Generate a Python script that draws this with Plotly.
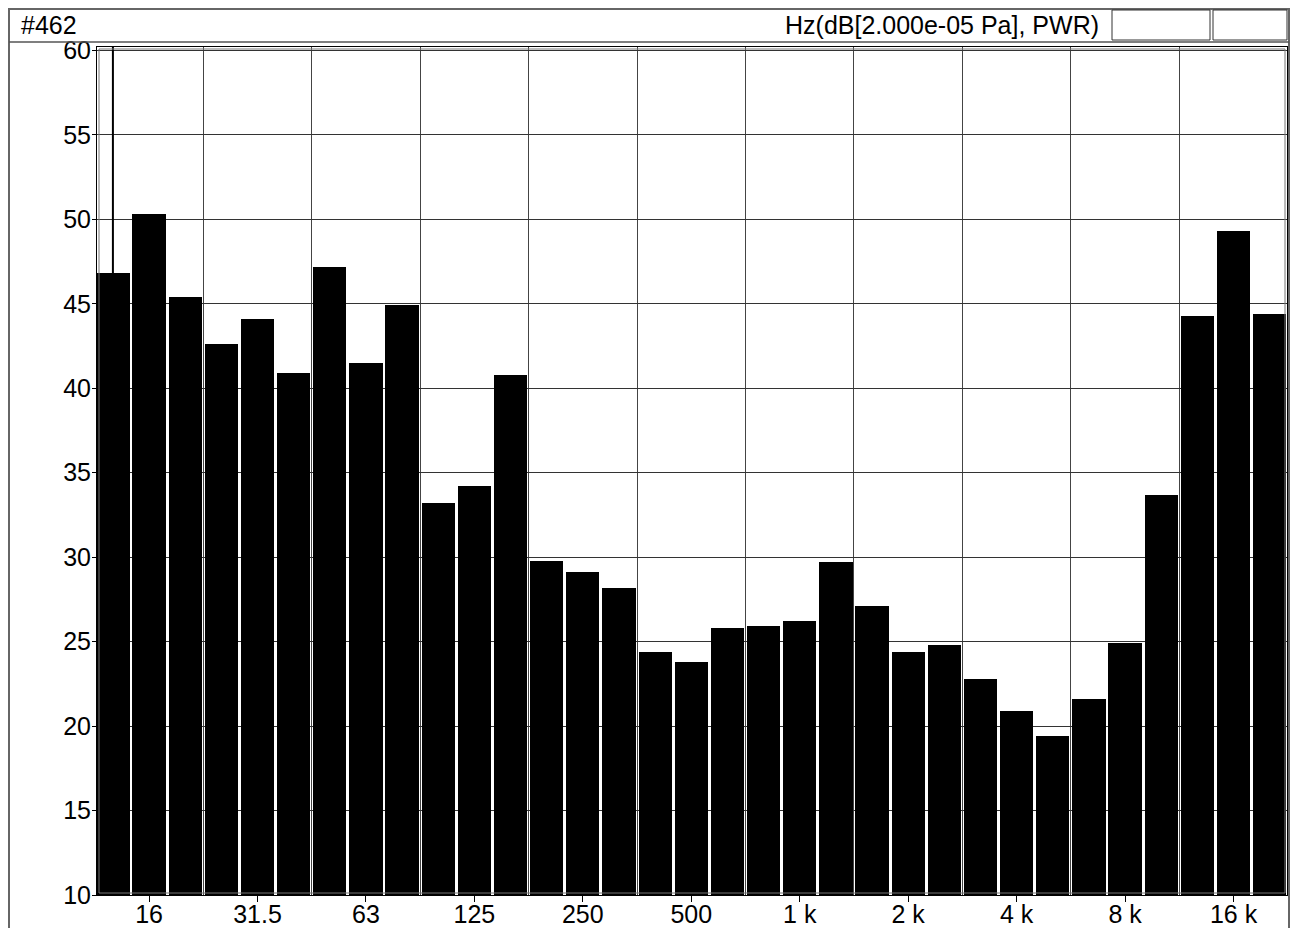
import plotly.graph_objects as go

# ---- data ----
bands = ["12.5", "16", "20", "25", "31.5", "40", "50", "63", "80", "100", "125", "160",
         "200", "250", "315", "400", "500", "630", "800", "1 k", "1.25 k", "1.6 k", "2 k",
         "2.5 k", "3.15 k", "4 k", "5 k", "6.3 k", "8 k", "10 k", "12.5 k", "16 k", "20 k"]
levels_db = [46.8, 50.3, 45.4, 42.6, 44.1, 40.9, 47.2, 41.5, 44.9, 33.2, 34.2, 40.8,
             29.8, 29.1, 28.2, 24.4, 23.8, 25.8, 25.9, 26.2, 29.7, 27.1, 24.4,
             24.8, 22.8, 20.9, 19.4, 21.6, 24.9, 33.7, 44.3, 49.3, 44.4]
tick_labels = ["16", "31.5", "63", "125", "250", "500", "1 k", "2 k", "4 k", "8 k", "16 k"]
y_ticks = [10, 15, 20, 25, 30, 35, 40, 45, 50, 55, 60]
cursor_band = "12.5"
title_left = "#462"
title_right = "Hz(dB[2.000e-05 Pa], PWR)"

# ---- layout geometry (page body has an 8px margin) ----
OFF = 8
W, H = 1298 - OFF, 928 - OFF
ML, MT = 97 - OFF, 47 - OFF
MR = W - (1287 - OFF)
MB = H - (895 - OFF)
PW, PH = W - ML - MR, H - MT - MB
FONT = "Liberation Sans, Arial, sans-serif"
FS = 25


def px(x):
    return (x - OFF - ML) / PW


def py(y):
    return (H - MB - (y - OFF)) / PH


idx = list(range(len(bands)))
tick_idx = [bands.index(t) for t in tick_labels]
grid_idx = [i + 0.5 for i in range(2, len(bands) - 3, 3)]
cursor_idx = bands.index(cursor_band)

fig = go.Figure()
fig.add_trace(go.Bar(
    x=idx, y=levels_db, width=0.92,
    marker=dict(color="black", line=dict(width=0)),
    hovertext=bands, showlegend=False,
))

shapes = []
# cursor line
shapes.append(dict(type="line", xref="x", yref="paper", x0=cursor_idx, x1=cursor_idx,
                   y0=0, y1=1, line=dict(color="black", width=2), layer="above"))
# plot inner double border
shapes.append(dict(type="rect", xref="paper", yref="paper", x0=px(99), x1=px(1285),
                   y0=py(893), y1=py(49), line=dict(color="#777", width=1), layer="above"))
# outer frame (left, top, right)
shapes.append(dict(type="path", xref="paper", yref="paper",
                   path=f"M {px(9)} {py(940)} L {px(9)} {py(9)} L {px(1289)} {py(9)} L {px(1289)} {py(940)}",
                   line=dict(color="#666", width=2), layer="above"))
# header separator
shapes.append(dict(type="line", xref="paper", yref="paper", x0=px(9), x1=px(1289),
                   y0=py(42), y1=py(42), line=dict(color="#555", width=1.5)))
# two empty header boxes
shapes.append(dict(type="rect", xref="paper", yref="paper", x0=px(1112), x1=px(1210),
                   y0=py(40), y1=py(10), line=dict(color="#333", width=1)))
shapes.append(dict(type="rect", xref="paper", yref="paper", x0=px(1213), x1=px(1287),
                   y0=py(40), y1=py(10), line=dict(color="#333", width=1)))

annotations = [
    dict(text=title_left, xref="paper", yref="paper", x=px(19), y=py(25),
         xanchor="left", yanchor="middle", showarrow=False,
         font=dict(family=FONT, size=FS, color="black")),
    dict(text=title_right, xref="paper", yref="paper", x=px(1101), y=py(25),
         xanchor="right", yanchor="middle", showarrow=False,
         font=dict(family=FONT, size=FS, color="black")),
]

fig.update_layout(
    width=W, height=H, autosize=False,
    margin=dict(l=ML, r=MR, t=MT, b=MB, pad=0, autoexpand=False),
    paper_bgcolor="white", plot_bgcolor="white",
    font=dict(family=FONT, size=FS, color="black"),
    bargap=0,
    shapes=shapes, annotations=annotations,
    xaxis=dict(
        range=[-0.44, 32.48], tickmode="array", tickvals=tick_idx, ticktext=tick_labels,
        ticks="outside", ticklen=6, tickcolor="black", tickwidth=1,
        ticklabelstandoff=-9, automargin=False,
        showgrid=False, zeroline=False,
        showline=True, linecolor="black", linewidth=1, mirror=True,
        tickfont=dict(family=FONT, size=FS, color="black"),
        minor=dict(tickvals=grid_idx, showgrid=True, gridcolor="#444", gridwidth=1,
                   ticks=""),
    ),
    yaxis=dict(
        range=[10, 60.2], tickmode="array", tickvals=y_ticks,
        ticks="outside", ticklen=4, tickcolor="black", tickwidth=1,
        ticklabelstandoff=-4, automargin=False,
        showgrid=True, gridcolor="#333", gridwidth=1, zeroline=False,
        showline=True, linecolor="black", linewidth=1, mirror=True,
        tickfont=dict(family=FONT, size=FS, color="black"),
    ),
)

fig.write_html("out.html")
